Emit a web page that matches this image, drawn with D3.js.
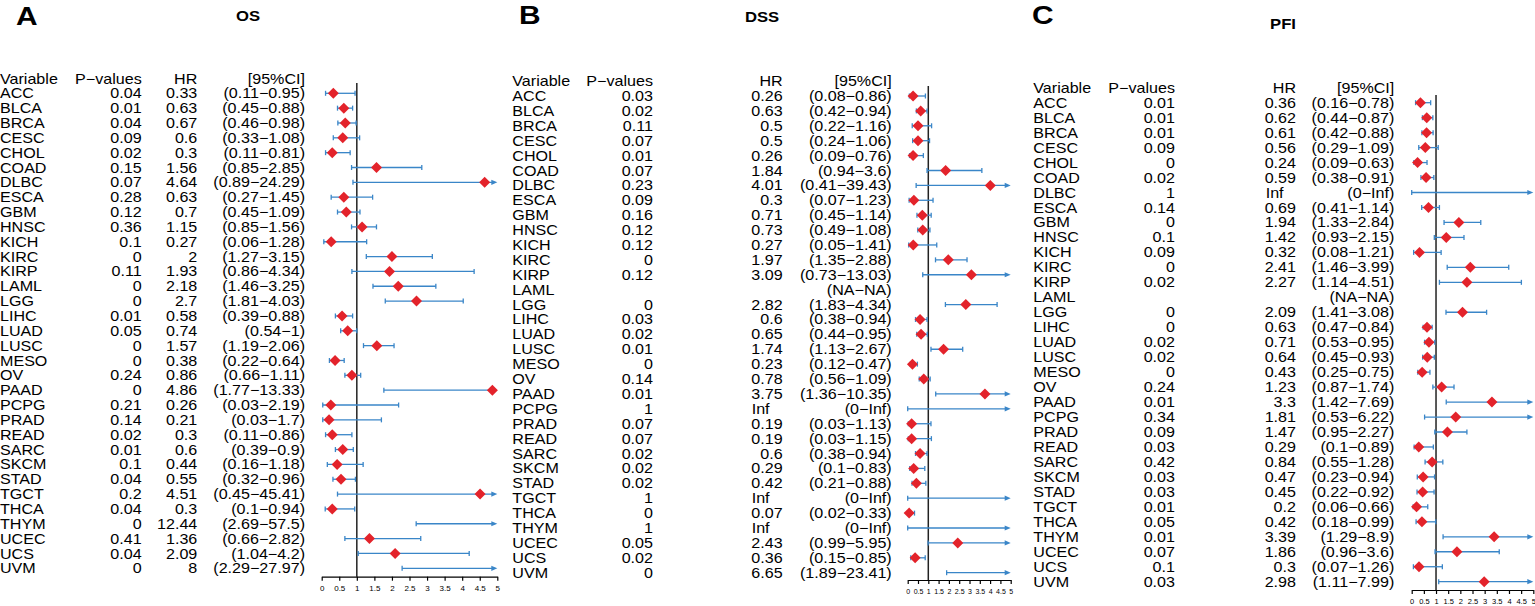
<!DOCTYPE html>
<html>
<head>
<meta charset="utf-8">
<script src="https://cdn.jsdelivr.net/npm/d3@7"></script>
<style>
  body { margin: 0; background: #fff; }
  svg { display: block; }
  text { font-family: "Liberation Sans", Arial, sans-serif; fill: #000; }
</style>
</head>
<body>
<svg width="1535" height="606"></svg>
<script>
const categories = ["ACC", "BLCA", "BRCA", "CESC", "CHOL", "COAD", "DLBC", "ESCA", "GBM", "HNSC",
  "KICH", "KIRC", "KIRP", "LAML", "LGG", "LIHC", "LUAD", "LUSC", "MESO", "OV", "PAAD", "PCPG",
  "PRAD", "READ", "SARC", "SKCM", "STAD", "TGCT", "THCA", "THYM", "UCEC", "UCS", "UVM"];

// OS
const osP = [0.04, 0.01, 0.04, 0.09, 0.02, 0.15, 0.07, 0.28, 0.12, 0.36, 0.1, 0, 0.11, 0, 0, 0.01,
  0.05, 0, 0, 0.24, 0, 0.21, 0.14, 0.02, 0.01, 0.1, 0.04, 0.2, 0.04, 0, 0.41, 0.04, 0];
const osHR = [0.33, 0.63, 0.67, 0.6, 0.3, 1.56, 4.64, 0.63, 0.7, 1.15, 0.27, 2, 1.93, 2.18, 2.7, 0.58,
  0.74, 1.57, 0.38, 0.86, 4.86, 0.26, 0.21, 0.3, 0.6, 0.44, 0.55, 4.51, 0.3, 12.44, 1.36, 2.09, 8];
const osLow = [0.11, 0.45, 0.46, 0.33, 0.11, 0.85, 0.89, 0.27, 0.45, 0.85, 0.06, 1.27, 0.86, 1.46, 1.81,
  0.39, 0.54, 1.19, 0.22, 0.66, 1.77, 0.03, 0.03, 0.11, 0.39, 0.16, 0.32, 0.45, 0.1, 2.69, 0.66, 1.04, 2.29];
const osHigh = [0.95, 0.88, 0.98, 1.08, 0.81, 2.85, 24.29, 1.45, 1.09, 1.56, 1.28, 3.15, 4.34, 3.25, 4.03,
  0.88, 1, 2.06, 0.64, 1.11, 13.33, 2.19, 1.7, 0.86, 0.9, 1.18, 0.96, 45.41, 0.94, 57.5, 2.82, 4.2, 27.97];

// DSS
const dssP = [0.03, 0.02, 0.11, 0.07, 0.01, 0.07, 0.23, 0.09, 0.16, 0.12, 0.12, 0, 0.12, null, 0, 0.03,
  0.02, 0.01, 0, 0.14, 0.01, 1, 0.07, 0.07, 0.02, 0.02, 0.02, 1, 0, 1, 0.05, 0.02, 0];
const dssHR = [0.26, 0.63, 0.5, 0.5, 0.26, 1.84, 4.01, 0.3, 0.71, 0.73, 0.27, 1.97, 3.09, null, 2.82, 0.6,
  0.65, 1.74, 0.23, 0.78, 3.75, Infinity, 0.19, 0.19, 0.6, 0.29, 0.42, Infinity, 0.07, Infinity, 2.43, 0.36, 6.65];
const dssLow = [0.08, 0.42, 0.22, 0.24, 0.09, 0.94, 0.41, 0.07, 0.45, 0.49, 0.05, 1.35, 0.73, null, 1.83,
  0.38, 0.44, 1.13, 0.12, 0.56, 1.36, 0, 0.03, 0.03, 0.38, 0.1, 0.21, 0, 0.02, 0, 0.99, 0.15, 1.89];
const dssHigh = [0.86, 0.94, 1.16, 1.06, 0.76, 3.6, 39.43, 1.23, 1.14, 1.08, 1.41, 2.88, 13.03, null, 4.34,
  0.94, 0.95, 2.67, 0.47, 1.09, 10.35, Infinity, 1.13, 1.15, 0.94, 0.83, 0.88, Infinity, 0.33, Infinity, 5.95, 0.85, 23.41];

// PFI
const pfiP = [0.01, 0.01, 0.01, 0.09, 0, 0.02, 1, 0.14, 0, 0.1, 0.09, 0, 0.02, null, 0, 0, 0.02, 0.02,
  0, 0.24, 0.01, 0.34, 0.09, 0.03, 0.42, 0.03, 0.03, 0.01, 0.05, 0.01, 0.07, 0.1, 0.03];
const pfiHR = [0.36, 0.62, 0.61, 0.56, 0.24, 0.59, Infinity, 0.69, 1.94, 1.42, 0.32, 2.41, 2.27, null, 2.09,
  0.63, 0.71, 0.64, 0.43, 1.23, 3.3, 1.81, 1.47, 0.29, 0.84, 0.47, 0.45, 0.2, 0.42, 3.39, 1.86, 0.3, 2.98];
const pfiLow = [0.16, 0.44, 0.42, 0.29, 0.09, 0.38, 0, 0.41, 1.33, 0.93, 0.08, 1.46, 1.14, null, 1.41,
  0.47, 0.53, 0.45, 0.25, 0.87, 1.42, 0.53, 0.95, 0.1, 0.55, 0.23, 0.22, 0.06, 0.18, 1.29, 0.96, 0.07, 1.11];
const pfiHigh = [0.78, 0.87, 0.88, 1.09, 0.63, 0.91, Infinity, 1.14, 2.84, 2.15, 1.21, 3.99, 4.51, null, 3.08,
  0.84, 0.95, 0.93, 0.75, 1.74, 7.69, 6.22, 2.27, 0.89, 1.28, 0.94, 0.92, 0.66, 0.99, 8.9, 3.6, 1.26, 7.99];

const hrTicks = [0, 0.5, 1, 1.5, 2, 2.5, 3, 3.5, 4, 4.5, 5];
const headers = ["Variable", "P\u2212values", "HR", "[95%CI]"];

const svg = d3.select("svg");
const SX = 1.15;          // horizontal stretch of the original raster
const blue = "#3a86c8";
const red = "#e3232b";

function txt(g, x, y, s, anchor, size, weight) {
  return g.append("text")
    .attr("transform", `translate(${x},${y}) scale(${SX},1)`)
    .attr("text-anchor", anchor)
    .attr("dy", "0.36em")
    .attr("font-size", size)
    .attr("font-weight", weight || "normal")
    .text(s);
}

function fmt(v) {
  if (v === null) return "NA";
  if (v === Infinity) return "Inf";
  return String(v);
}

function panel(cfg) {
  const g = svg.append("g");
  const x = d3.scaleLinear().domain([0, 5]).range([cfg.x0, cfg.x5]);
  const y = d3.scalePoint().domain(categories).range([cfg.row0, cfg.rowN]);

  txt(g, cfg.letterX, cfg.letterY, cfg.letter, "start", 26, "bold");
  txt(g, cfg.titleX, cfg.titleY, cfg.title, "middle", 14.5, "bold");

  // header
  txt(g, cfg.varX, cfg.headY, headers[0], "start", 14);
  txt(g, cfg.pX, cfg.headY, headers[1], "end", 14);
  txt(g, cfg.hrX, cfg.headY, headers[2], "end", 14);
  txt(g, cfg.ciX, cfg.headY, headers[3], "end", 14);

  categories.forEach((c, i) => {
    const yy = y(c);
    txt(g, cfg.varX, yy, c, "start", 14);
    if (cfg.p[i] !== null) txt(g, cfg.pX, yy, fmt(cfg.p[i]), "end", 14);
    if (cfg.hr[i] === Infinity) txt(g, cfg.hrInfX, yy, "Inf", "start", 14);
    else if (cfg.hr[i] !== null) txt(g, cfg.hrX, yy, fmt(cfg.hr[i]), "end", 14);
    txt(g, cfg.ciX, yy, `(${fmt(cfg.lo[i])}\u2212${fmt(cfg.hi[i])})`, "end", 14);
  });

  // reference line at HR = 1
  g.append("line")
    .attr("x1", x(1)).attr("x2", x(1))
    .attr("y1", cfg.refTop).attr("y2", cfg.axisY)
    .attr("stroke", "#222").attr("stroke-width", 1.5);

  // CI lines
  const rows = categories.map((c, i) => ({ c, hr: cfg.hr[i], lo: cfg.lo[i], hi: cfg.hi[i] }))
    .filter(d => d.lo !== null);
  const ci = g.append("g").attr("stroke", blue).attr("stroke-width", 1.3).attr("fill", blue);
  rows.forEach(d => {
    const yy = y(d.c);
    const clipped = d.hi > 5;
    const xa = x(d.lo), xb = x(Math.min(d.hi, 5));
    ci.append("line").attr("x1", xa).attr("x2", clipped ? xb - 3 : xb).attr("y1", yy).attr("y2", yy);
    ci.append("line").attr("x1", xa).attr("x2", xa).attr("y1", yy - 2.5).attr("y2", yy + 2.5);
    if (clipped) {
      ci.append("path").attr("stroke", "none")
        .attr("d", `M${xb},${yy}L${xb - 6},${yy - 2.6}L${xb - 6},${yy + 2.6}Z`);
    } else {
      ci.append("line").attr("x1", xb).attr("x2", xb).attr("y1", yy - 2.5).attr("y2", yy + 2.5);
    }
  });

  // point estimates
  g.append("g").selectAll("path")
    .data(rows.filter(d => isFinite(d.hr) && d.hr <= 5))
    .join("path")
    .attr("fill", red)
    .attr("d", d => {
      const cx = x(d.hr), cy = y(d.c);
      return `M${cx - 5.5},${cy}L${cx},${cy - 5.5}L${cx + 5.5},${cy}L${cx},${cy + 5.5}Z`;
    });

  // axis
  const ax = g.append("g")
    .attr("transform", `translate(0,${cfg.axisY})`)
    .call(d3.axisBottom(x).tickValues(hrTicks).tickFormat(d3.format("~g")).tickSize(4).tickSizeOuter(0));
  ax.select(".domain").attr("stroke", "#000").attr("stroke-width", 1.2);
  ax.selectAll(".tick line").attr("stroke", "#000").attr("stroke-width", 1.2);
  ax.selectAll(".tick text")
    .attr("font-family", "Liberation Sans, Arial, sans-serif")
    .attr("font-size", cfg.tickSize)
    .attr("y", 9);
}

panel({
  letter: "A", letterX: 16, letterY: 16, title: "OS", titleX: 248, titleY: 16,
  p: osP, hr: osHR, lo: osLow, hi: osHigh,
  varX: 0, pX: 141.7, hrX: 197.3, hrInfX: 166, ciX: 305,
  headY: 79, row0: 93.3, rowN: 568.3,
  x0: 321.7, x5: 497.3, refTop: 83, axisY: 576.7, tickSize: 8
});

panel({
  letter: "B", letterX: 519, letterY: 15, title: "DSS", titleX: 762, titleY: 17,
  p: dssP, hr: dssHR, lo: dssLow, hi: dssHigh,
  varX: 512.3, pX: 653, hrX: 782.7, hrInfX: 751.7, ciX: 891.7,
  headY: 81, row0: 96, rowN: 572.7,
  x0: 907.7, x5: 1010.7, refTop: 86, axisY: 580, tickSize: 7
});

panel({
  letter: "C", letterX: 1032, letterY: 15, title: "PFI", titleX: 1283, titleY: 24,
  p: pfiP, hr: pfiHR, lo: pfiLow, hi: pfiHigh,
  varX: 1033.3, pX: 1175, hrX: 1296, hrInfX: 1265.7, ciX: 1394.3,
  headY: 88, row0: 102.7, rowN: 581.7,
  x0: 1411.7, x5: 1533.3, refTop: 95, axisY: 590, tickSize: 7.5
});
</script>
</body>
</html>
